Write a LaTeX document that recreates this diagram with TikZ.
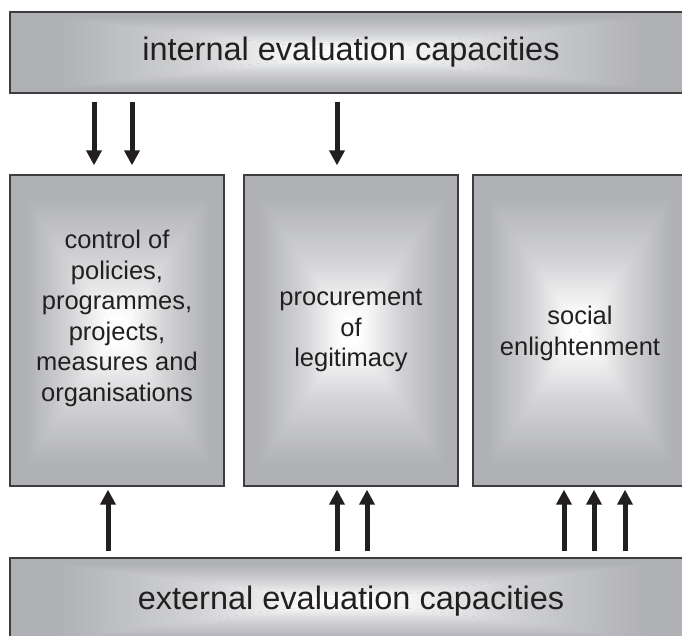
\documentclass[tikz,border=0pt]{standalone}
\usepackage{fontspec}
\setmainfont{Liberation Sans}
\usetikzlibrary{arrows.meta}

\definecolor{edgegray}{RGB}{176,177,181}
\definecolor{framegray}{RGB}{62,62,64}
\definecolor{inkblack}{RGB}{35,31,32}

% bottom (centre side) white, top (edge side) gray
\pgfdeclareverticalshading{ridge}{100bp}{color(0bp)=(white); color(25bp)=(white); color(29bp)=(white); color(47bp)=(edgegray!55!white); color(68bp)=(edgegray); color(100bp)=(edgegray)}

\tikzset{
  pyramid/.style={path picture={
      \path (path picture bounding box.north west) coordinate (pnw)
            (path picture bounding box.north east) coordinate (pne)
            (path picture bounding box.south west) coordinate (psw)
            (path picture bounding box.south east) coordinate (pse)
            (path picture bounding box.center) coordinate (pmid);
      \fill[edgegray] (pnw) rectangle (pse);
      \shade[shading=ridge] (pnw) -- (pne) -- (pmid) -- cycle;
      \shade[shading=ridge,shading angle=180] (psw) -- (pse) -- (pmid) -- cycle;
      \shade[shading=ridge,shading angle=90] (pnw) -- (psw) -- (pmid) -- cycle;
      \shade[shading=ridge,shading angle=270] (pne) -- (pse) -- (pmid) -- cycle;
    }},
  bar/.style={draw=framegray, line width=1.3pt, inner sep=0pt, pyramid,
    minimum width=682pt, text=inkblack, font=\fontsize{32.5}{37}\selectfont},
  box/.style={draw=framegray, line width=1.3pt, inner sep=0pt, pyramid,
    minimum width=214pt, minimum height=311pt},
  boxtext/.style={align=center, text=inkblack, font=\fontsize{25.5}{30.5}\selectfont},
  flow/.style={-{Triangle[width=15pt,length=15pt]}, line width=5pt, draw=inkblack},
  down/.style={flow, shorten <=8pt, shorten >=9pt},
  up/.style={flow, shorten <=6pt, shorten >=3pt}
}

\begin{document}
\begin{tikzpicture}[x=1pt,y=-1pt]
  \useasboundingbox (0,0) rectangle (682,635);
  \clip (0,0) rectangle (682,635);

  % capacities
  \node[bar, minimum height=81pt] (intern) at (351,52.5) {internal evaluation capacities};
  \node[bar, minimum height=86pt] (extern) at (351,601) {external evaluation capacities};

  % functions
  \node[box] (control) at (117,330.5) {};
  \node[box] (procure) at (351,330.5) {};
  \node[box] (enlight) at (580,330.5) {};

  \node[boxtext] (controltext) at ([yshift=12pt]control.center)
    {control of\\policies,\\programmes,\\projects,\\measures and\\organisations};
  \node[boxtext] (procuretext) at (procure.center) {procurement\\of\\legitimacy};
  \node[boxtext] (enlighttext) at ([yshift=-3pt]enlight.center) {social\\enlightenment};

  % arrows
  \foreach \x in {94,132}
    \draw[down] (intern.south -| \x,0) -- (control.north -| \x,0);
  \draw[down] (intern.south -| 337,0) -- (procure.north -| 337,0);

  \draw[up] (extern.north -| 108,0) -- (control.south -| 108,0);
  \foreach \x in {337,367}
    \draw[up] (extern.north -| \x,0) -- (procure.south -| \x,0);
  \foreach \x in {564,594,625}
    \draw[up] (extern.north -| \x,0) -- (enlight.south -| \x,0);
\end{tikzpicture}
\end{document}
